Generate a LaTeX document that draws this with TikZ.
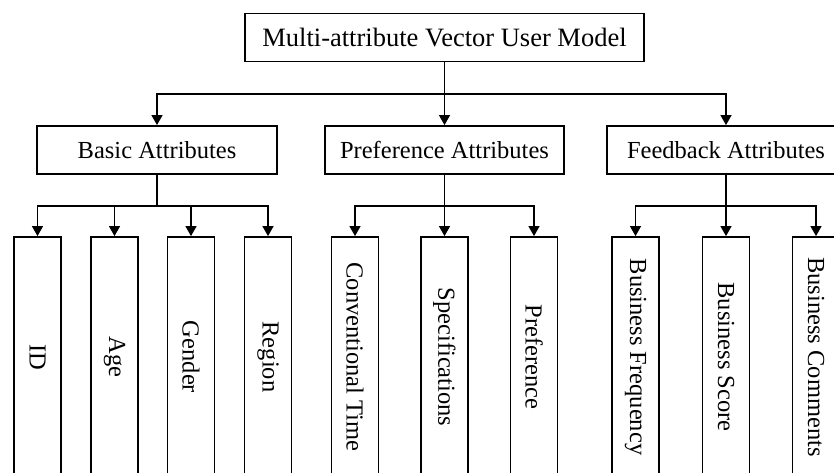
\documentclass[tikz,border=0pt]{standalone}
\usepackage{fontspec}
\setmainfont{Liberation Serif}
\usetikzlibrary{arrows.meta}

\tikzset{
  attrbox/.style={draw, line width=1.8pt, rectangle, minimum height=48pt, inner sep=0pt,
    font=\fontsize{24.5}{28}\selectfont},
  leafbox/.style={draw, line width=1.8pt, rectangle, minimum width=47pt, minimum height=240pt,
    inner sep=0pt, font=\fontsize{24.5}{28}\selectfont},
  conn/.style={line width=1.2pt, -{Triangle[length=10pt,width=11pt]}},
  bus/.style={line width=1.2pt}
}

\begin{document}
\begin{tikzpicture}[x=1pt,y=-1pt]
\useasboundingbox (0,0) rectangle (834,472);
\clip (0,0) rectangle (834,472);

% top level
\node [attrbox, minimum width=399pt, font=\fontsize{26.5}{30}\selectfont] (model) at (444.5,37.5) {Multi-attribute Vector User Model};

% second level
\node [attrbox, minimum width=240pt] (basic) at (157,150) {Basic Attributes};
\node [attrbox, minimum width=239pt] (pref) at (444.5,150) {Preference Attributes};
\node [attrbox, minimum width=238pt] (feed) at (726,150) {Feedback Attributes};

% leaves
\node [leafbox] (id) at (37.5,357) {\rotatebox{-90}{ID}};
\node [leafbox] (age) at (114.5,357) {\rotatebox{-90}{Age}};
\node [leafbox] (gender) at (191,357) {\rotatebox{-90}{Gender}};
\node [leafbox] (region) at (268,357) {\rotatebox{-90}{Region}};

\node [leafbox] (convtime) at (355,357) {\rotatebox{-90}{Conventional Time}};
\node [leafbox] (spec) at (444.5,357) {\rotatebox{-90}{Specifications}};
\node [leafbox] (prefleaf) at (534,357) {\rotatebox{-90}{Preference}};

\node [leafbox] (freq) at (635.5,357) {\rotatebox{-90}{Business Frequency}};
\node [leafbox] (score) at (726,357) {\rotatebox{-90}{Business Score}};
\node [leafbox] (comments) at (816,357) {\rotatebox{-90}{Business Comments}};

% bus points
\coordinate (topbus) at (444.5,94);
\coordinate (basicbus) at (157,206);
\coordinate (prefbus) at (444.5,206);
\coordinate (feedbus) at (726,206);

% top -> second level
\draw [bus] (model.south) -- (topbus);
\draw [conn] (topbus) -| (basic.north);
\draw [conn] (topbus) -- (pref.north);
\draw [conn] (topbus) -| (feed.north);

% basic -> leaves
\draw [bus] (basic.south) -- (basicbus);
\draw [conn] (basicbus) -| (id.north);
\draw [conn] (basicbus) -| (age.north);
\draw [conn] (basicbus) -| (gender.north);
\draw [conn] (basicbus) -| (region.north);

% preference -> leaves
\draw [bus] (pref.south) -- (prefbus);
\draw [conn] (prefbus) -| (convtime.north);
\draw [conn] (prefbus) -- (spec.north);
\draw [conn] (prefbus) -| (prefleaf.north);

% feedback -> leaves
\draw [bus] (feed.south) -- (feedbus);
\draw [conn] (feedbus) -| (freq.north);
\draw [conn] (feedbus) -- (score.north);
\draw [conn] (feedbus) -| (comments.north);

\end{tikzpicture}
\end{document}
